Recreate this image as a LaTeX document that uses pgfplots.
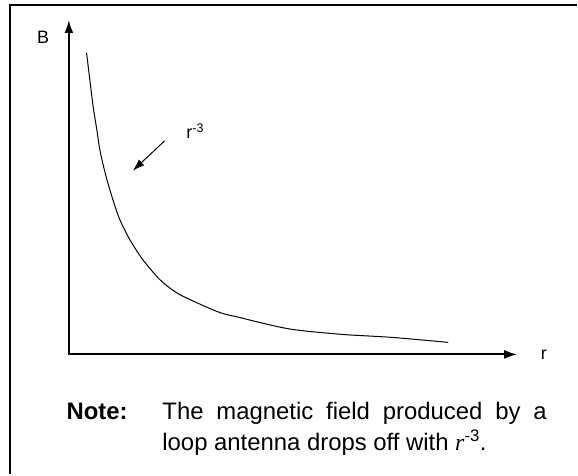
\documentclass[border=0pt]{standalone}
\usepackage{fontspec}
\setmainfont{Liberation Sans}
\newfontfamily\serif{Liberation Serif}
\usepackage{pgfplots}
\pgfplotsset{compat=1.18}
\usetikzlibrary{arrows.meta}
\begin{document}
\begin{tikzpicture}
\begin{axis}[
  scale only axis, width=578bp, height=475bp,
  xmin=0, xmax=578, ymin=0, ymax=475,
  hide axis, clip=false,
]
% bounding box
\path (axis cs:0,0) rectangle (axis cs:578,475);
% frame (top and left)
\draw[line width=2bp] (axis cs:10,0) -- (axis cs:10,469.5) -- (axis cs:578,469.5);
% axes
\draw[line width=2bp, -{Latex[length=13bp,width=9bp]}] (axis cs:68,120) -- (axis cs:518,120);
\draw[line width=2bp, -{Latex[length=13bp,width=9bp]}] (axis cs:69,119) -- (axis cs:69,455);
% curve
\addplot[black, line width=1bp, smooth, tension=0.5] coordinates {
(86.7,422) (90,395) (93.3,368.3) (97,345) (100,325) (105,303) (110,285)
(115,269) (120,255) (130,235) (143,215) (160,195) (175,183) (190,175)
(220,162) (240,157) (260,152) (293,145) (343,140) (393,137) (449,132)
};
% annotation arrow
\draw[line width=1bp, -{Latex[length=12bp,width=8bp]}] (axis cs:165,334) -- (axis cs:133,304);
\node[anchor=base west, inner sep=0pt, font=\fontsize{18}{20}\selectfont] at (axis cs:186.5,336) {r\textsuperscript{-3}};
% labels
\node[anchor=base west, inner sep=0pt, font=\fontsize{18}{20}\selectfont] at (axis cs:37,431) {B};
\node[anchor=base west, inner sep=0pt, font=\fontsize{18}{20}\selectfont] at (axis cs:541.5,115) {r};
% note
\node[anchor=base west, inner sep=0pt, font=\fontsize{24}{31}\selectfont\bfseries] at (axis cs:66.5,54.3) {Note:};
\node[anchor=base west, inner sep=0pt, font=\fontsize{24}{31}\selectfont] at (axis cs:162.5,54.3) {\makebox[385bp][s]{The magnetic field produced by a}};
\node[anchor=base west, inner sep=0pt, font=\fontsize{24}{31}\selectfont] at (axis cs:162.5,23.3) {loop antenna drops off with {\serif\itshape r}\textsuperscript{-3}.};
\end{axis}
\end{tikzpicture}
\end{document}
